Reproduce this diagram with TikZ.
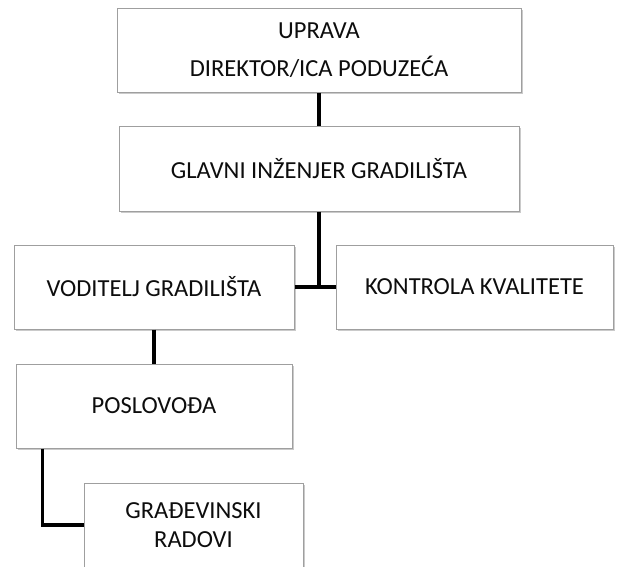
\documentclass[tikz,border=0pt]{standalone}
\usepackage{fontspec}
\setmainfont{Carlito}
\usepackage{tikz}
\usetikzlibrary{positioning}
\usetikzlibrary{shadows}

\tikzset{
    orgbox/.style={
        align=center,
        rectangle,
        draw=gray!75,
        line width=1pt,
        fill=white,
        text=black!95,
        inner sep=0pt,
        font=\fontsize{24.5}{29}\selectfont,
        drop shadow={shadow xshift=1.5pt, shadow yshift=-2pt, fill=gray!70, opacity=0.6}
    },
    orgline/.style={line width=3.5pt, black}
}

\begin{document}
\begin{tikzpicture}[x=1pt, y=-1pt]
        \useasboundingbox (0, 0) rectangle (617, 566);
        \node
        [
            orgbox,
            minimum width=404pt,
            minimum height=84pt
        ] (uprava) at (319, 50) {UPRAVA\\[9pt]DIREKTOR/ICA PODUZEĆA};
        \node
        [
            orgbox,
            minimum width=400pt,
            minimum height=85pt
        ] (glavni) at (319, 168.5) {GLAVNI INŽENJER GRADILIŠTA};
        \node
        [
            orgbox,
            minimum width=280pt,
            minimum height=84pt
        ] (voditelj) at (154, 287) {VODITELJ GRADILIŠTA};
        \node
        [
            orgbox,
            minimum width=277pt,
            minimum height=84pt
        ] (kontrola) at (474.5, 287) {KONTROLA KVALITETE};
        \node
        [
            orgbox,
            minimum width=276pt,
            minimum height=84pt
        ] (poslovoda) at (154, 406) {POSLOVOĐA};
        \node
        [
            orgbox,
            minimum width=219pt,
            minimum height=84pt
        ] (radovi) at (193.5, 525) {GRAĐEVINSKI\\RADOVI};
        \draw[orgline] (uprava) -- (glavni);
        \draw[orgline] (glavni) -- (glavni.south |- voditelj.east);
        \draw[orgline] (voditelj) -- (kontrola);
        \draw[orgline] (voditelj) -- (poslovoda);
        \draw[orgline] ([xshift=27pt]poslovoda.south west) |- (radovi.west);
    \end{tikzpicture}
\end{document}
